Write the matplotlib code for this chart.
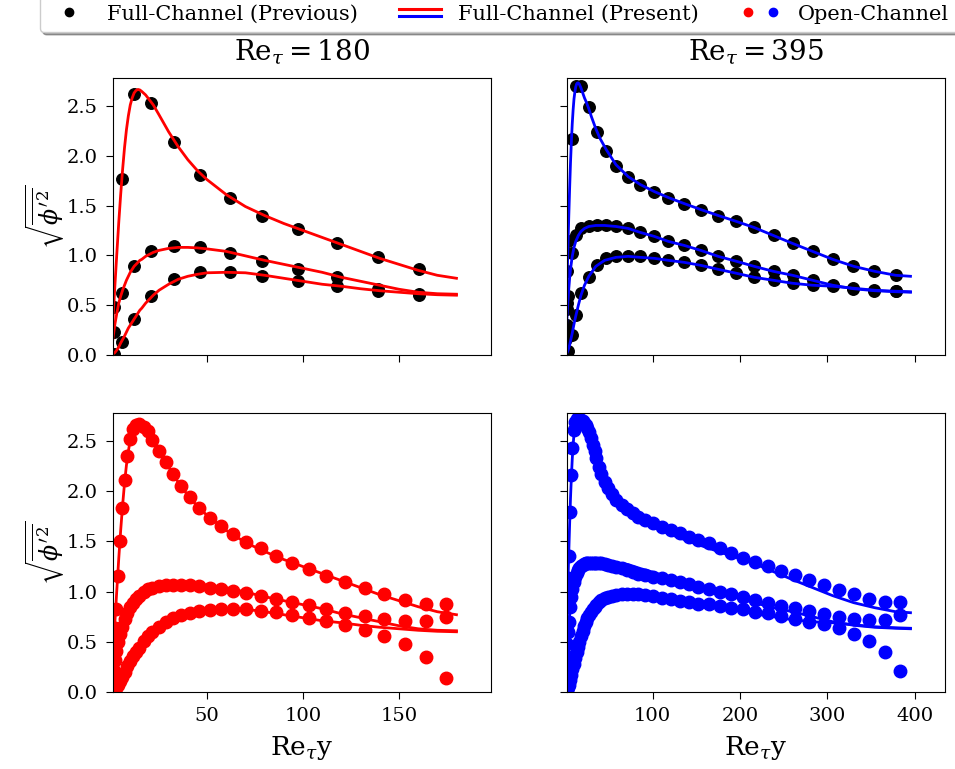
import matplotlib
matplotlib.use('Agg')
import matplotlib.pyplot as plt
from matplotlib.lines import Line2D
from matplotlib.legend_handler import HandlerBase, HandlerTuple

plt.rcParams['font.family'] = 'DejaVu Serif'
plt.rcParams['mathtext.fontset'] = 'dejavuserif'

# ---------------- Re_tau = 180 ----------------
# full channel, previous DNS (black dots)
x_prev_180 = [1.5, 5.6, 12.0, 21.0, 32.8, 46.2, 61.8, 78.8, 97.6, 117.9, 138.9, 160.4]
u_prev_180 = [0.48, 1.77, 2.62, 2.53, 2.14, 1.81, 1.58, 1.40, 1.26, 1.12, 0.98, 0.86]
w_prev_180 = [0.23, 0.62, 0.89, 1.04, 1.09, 1.08, 1.02, 0.94, 0.86, 0.78, 0.66, 0.61]
v_prev_180 = [0.01, 0.13, 0.36, 0.59, 0.76, 0.83, 0.83, 0.79, 0.74, 0.69, 0.64, 0.60]

# full channel, present (lines)
x_line_180 = [0, 1, 2, 3, 4, 5, 6, 7, 8, 9, 10, 11, 12, 13, 14, 15, 16, 18, 20, 22, 25,
              30, 35, 40, 45, 50, 60, 70, 80, 90, 100, 110, 120, 130, 140, 150, 160, 170, 180]
u_line_180 = [0, 0.36, 0.70, 1.02, 1.33, 1.61, 1.86, 2.08, 2.26, 2.40, 2.51, 2.58, 2.63, 2.655,
              2.665, 2.66, 2.645, 2.61, 2.56, 2.51, 2.41, 2.24, 2.09, 1.96, 1.85, 1.76, 1.61,
              1.49, 1.40, 1.32, 1.25, 1.18, 1.11, 1.04, 0.97, 0.91, 0.85, 0.80, 0.77]
w_line_180 = [0, 0.17, 0.31, 0.42, 0.52, 0.59, 0.65, 0.70, 0.75, 0.79, 0.83, 0.86, 0.89, 0.91,
              0.93, 0.95, 0.96, 0.99, 1.01, 1.03, 1.05, 1.07, 1.08, 1.08, 1.075, 1.065, 1.04,
              0.995, 0.95, 0.91, 0.87, 0.83, 0.78, 0.74, 0.70, 0.66, 0.63, 0.615, 0.61]
v_line_180 = [0, 0.01, 0.025, 0.05, 0.08, 0.12, 0.155, 0.19, 0.23, 0.27, 0.30, 0.33, 0.36, 0.39,
              0.42, 0.45, 0.47, 0.52, 0.56, 0.60, 0.65, 0.71, 0.76, 0.79, 0.81, 0.825, 0.83,
              0.825, 0.80, 0.77, 0.74, 0.71, 0.69, 0.665, 0.645, 0.63, 0.615, 0.605, 0.60]

# open channel (red dots)
x_open_180 = [0.6, 1.2, 1.8, 2.5, 3.45, 4.5, 5.7, 7.0, 8.4, 10.0, 11.5, 13.0, 14.6, 17.2, 19.3,
              21.5, 25.0, 28.8, 32.3, 36.3, 41.0, 45.8, 51.4, 57.5, 63.5, 70.5, 78.0, 85.8,
              94.3, 103.1, 112.2, 121.9, 132.1, 142.2, 153.0, 163.9, 174.7]
u_open_180 = [0.18, 0.42, 0.64, 0.83, 1.16, 1.50, 1.83, 2.11, 2.35, 2.52, 2.62, 2.66, 2.67, 2.64,
              2.60, 2.51, 2.40, 2.29, 2.17, 2.05, 1.94, 1.83, 1.73, 1.65, 1.57, 1.49, 1.43,
              1.36, 1.29, 1.23, 1.16, 1.10, 1.04, 0.98, 0.92, 0.88, 0.88]
w_open_180 = [0.12, 0.23, 0.32, 0.41, 0.50, 0.58, 0.65, 0.73, 0.79, 0.85, 0.89, 0.93, 0.96, 1.00,
              1.03, 1.04, 1.06, 1.07, 1.07, 1.07, 1.07, 1.06, 1.04, 1.03, 1.01, 0.99, 0.96,
              0.93, 0.90, 0.87, 0.83, 0.79, 0.76, 0.73, 0.71, 0.71, 0.75]
v_open_180 = [0.003, 0.01, 0.025, 0.04, 0.07, 0.11, 0.15, 0.20, 0.26, 0.31, 0.36, 0.40, 0.44, 0.51,
              0.56, 0.60, 0.65, 0.70, 0.74, 0.77, 0.79, 0.81, 0.82, 0.83, 0.83, 0.83, 0.81,
              0.80, 0.77, 0.74, 0.71, 0.67, 0.62, 0.56, 0.48, 0.35, 0.14]

# ---------------- Re_tau = 395 ----------------
x_prev_395 = [0.8, 1.5, 2.4, 3.3, 7.5, 12.5, 18.5, 26.8, 36.0, 46.8, 58.3, 71.7, 86.0, 102.0,
              117.9, 135.9, 155.1, 174.6, 195.6, 216.3, 238.5, 260.3, 283.2, 306.2, 329.6,
              353.3, 378.2]
u_prev_395 = [0.29, 0.52, 0.84, 1.14, 2.17, 2.70, 2.70, 2.49, 2.24, 2.05, 1.90, 1.79, 1.71, 1.64,
              1.58, 1.52, 1.46, 1.40, 1.34, 1.28, 1.20, 1.12, 1.04, 0.96, 0.89, 0.84, 0.80]
w_prev_395 = [0.16, 0.30, 0.46, 0.59, 1.02, 1.20, 1.27, 1.29, 1.30, 1.30, 1.29, 1.27, 1.23, 1.19,
              1.14, 1.10, 1.05, 0.99, 0.94, 0.89, 0.84, 0.80, 0.75, 0.70, 0.66, 0.64, 0.64]
v_prev_395 = [0.003, 0.01, 0.025, 0.045, 0.20, 0.40, 0.62, 0.78, 0.90, 0.97, 0.99, 0.99, 0.99,
              0.97, 0.95, 0.93, 0.90, 0.86, 0.82, 0.78, 0.75, 0.72, 0.70, 0.69, 0.67, 0.65, 0.64]

x_uline_395 = [0, 1, 2, 3, 4, 5, 6, 7, 8, 9, 10, 11, 12, 13, 14, 15, 16, 17, 18, 20, 22, 24, 27,
               30, 35, 40, 47, 58, 72, 86, 102, 118, 136, 155, 175, 196, 216, 238, 260, 283,
               306, 330, 354, 378, 395]
u_line_395 = [0, 0.36, 0.72, 1.06, 1.38, 1.67, 1.93, 2.14, 2.32, 2.46, 2.57, 2.64, 2.69, 2.72,
              2.73, 2.73, 2.72, 2.70, 2.68, 2.63, 2.58, 2.54, 2.47, 2.39, 2.27, 2.17, 2.06, 1.91,
              1.79, 1.71, 1.64, 1.58, 1.52, 1.46, 1.40, 1.34, 1.28, 1.20, 1.12, 1.04, 0.96,
              0.89, 0.84, 0.80, 0.79]
x_wline_395 = [0, 1, 2, 3, 4, 5, 6, 8, 10, 12, 15, 18, 22, 27, 35, 45, 58, 72, 86, 102, 118, 136,
               155, 175, 196, 216, 238, 260, 283, 306, 330, 354, 378, 395]
w_line_395 = [0, 0.2, 0.38, 0.53, 0.66, 0.77, 0.86, 0.99, 1.08, 1.14, 1.20, 1.24, 1.27, 1.29,
              1.30, 1.30, 1.29, 1.27, 1.23, 1.19, 1.14, 1.10, 1.05, 0.99, 0.94, 0.89, 0.84, 0.80,
              0.75, 0.70, 0.665, 0.645, 0.635, 0.63]
v_line_395 = [0, 0.005, 0.02, 0.04, 0.07, 0.10, 0.14, 0.22, 0.31, 0.39, 0.50, 0.60, 0.70, 0.79,
              0.89, 0.95, 0.98, 0.99, 0.98, 0.97, 0.95, 0.93, 0.90, 0.86, 0.82, 0.78, 0.75, 0.72,
              0.70, 0.69, 0.67, 0.65, 0.64, 0.635]

x_open_395 = [0.4, 1.0, 1.7, 2.5, 3.3, 4.1, 5.5, 6.8, 8.2, 9.8, 11.4, 13.0, 14.6, 16.3, 18.0,
              19.8, 21.6, 23.5, 25.4, 27.4, 29.4, 31.5, 33.6, 35.7, 38.7, 41.4, 45.2, 49.0,
              54.0, 58.6, 64.4, 70.1, 77.0, 83.5, 91.2, 100.0, 110.3, 121.0, 131.3, 141.7,
              152.4, 164.6, 176.5, 189.5, 202.9, 217.4, 232.0, 247.3, 263.4, 279.4, 295.9,
              313.1, 330.3, 347.6, 365.6, 383.1]
u_open_395 = [0.14, 0.36, 0.61, 0.89, 1.14, 1.36, 1.79, 2.16, 2.43, 2.61, 2.69, 2.72, 2.73, 2.72,
              2.71, 2.70, 2.68, 2.66, 2.63, 2.59, 2.53, 2.46, 2.40, 2.33, 2.24, 2.17, 2.09,
              2.03, 1.97, 1.91, 1.86, 1.82, 1.78, 1.74, 1.71, 1.68, 1.64, 1.61, 1.58, 1.54,
              1.51, 1.48, 1.43, 1.39, 1.34, 1.30, 1.26, 1.21, 1.17, 1.12, 1.07, 1.02, 0.98,
              0.93, 0.90, 0.90]
w_open_395 = [0.08, 0.20, 0.34, 0.48, 0.60, 0.70, 0.85, 0.95, 1.03, 1.10, 1.15, 1.19, 1.22, 1.24,
              1.26, 1.27, 1.28, 1.285, 1.29, 1.29, 1.29, 1.29, 1.29, 1.29, 1.29, 1.285, 1.28,
              1.27, 1.26, 1.25, 1.24, 1.22, 1.20, 1.18, 1.17, 1.15, 1.14, 1.12, 1.10, 1.08,
              1.05, 1.03, 1.00, 0.98, 0.95, 0.92, 0.89, 0.86, 0.84, 0.81, 0.78, 0.75, 0.73,
              0.72, 0.72, 0.77]
v_open_395 = [0.0, 0.005, 0.015, 0.03, 0.05, 0.07, 0.12, 0.17, 0.23, 0.28, 0.34, 0.40, 0.45, 0.50,
              0.56, 0.61, 0.66, 0.70, 0.74, 0.77, 0.80, 0.83, 0.85, 0.87, 0.90, 0.92, 0.94,
              0.95, 0.96, 0.97, 0.975, 0.98, 0.98, 0.98, 0.97, 0.96, 0.94, 0.93, 0.91, 0.90,
              0.88, 0.88, 0.86, 0.84, 0.83, 0.80, 0.79, 0.76, 0.73, 0.70, 0.68, 0.64, 0.58,
              0.51, 0.40, 0.21]


class HandlerStacked(HandlerBase):
    # two lines drawn one above the other in the legend
    def create_artists(self, legend, orig_handle, xdescent, ydescent, width, height,
                       fontsize, trans):
        arts = []
        for k, h in enumerate(orig_handle):
            y = height / 2 - ydescent + (0.22 - 0.44 * k) * height
            ln = Line2D([-xdescent, width - xdescent], [y, y], color=h.get_color(),
                        lw=h.get_linewidth(), transform=trans)
            arts.append(ln)
        return arts


fig = plt.figure(figsize=(9.55, 7.69), dpi=100)
W, H = 955, 769
def rect(l, t, r, b):
    return [l / W, 1 - b / H, (r - l) / W, (b - t) / H]

ax_tl = fig.add_axes(rect(113, 78, 491, 355))
ax_tr = fig.add_axes(rect(567, 78, 945, 355))
ax_bl = fig.add_axes(rect(113, 413, 491, 692))
ax_br = fig.add_axes(rect(567, 413, 945, 692))

ms_prev = 8.3
ms_open = 9
lw = 2

# top row: previous (black) + present (lines)
for ax, xp, ps, xl, ls, col in [
        (ax_tl, x_prev_180, [u_prev_180, w_prev_180, v_prev_180],
         [x_line_180] * 3, [u_line_180, w_line_180, v_line_180], 'r'),
        (ax_tr, x_prev_395, [u_prev_395, w_prev_395, v_prev_395],
         [x_uline_395, x_wline_395, x_wline_395], [u_line_395, w_line_395, v_line_395], 'b')]:
    for p in ps:
        ax.plot(xp, p, 'o', color='k', ms=ms_prev)
    for xx, l in zip(xl, ls):
        ax.plot(xx, l, '-', color=col, lw=lw)

# bottom row: open channel (coloured dots) + present (lines)
for ax, xo, os_, xl, ls, col in [
        (ax_bl, x_open_180, [u_open_180, w_open_180, v_open_180],
         [x_line_180] * 3, [u_line_180, w_line_180, v_line_180], 'r'),
        (ax_br, x_open_395, [u_open_395, w_open_395, v_open_395],
         [x_uline_395, x_wline_395, x_wline_395], [u_line_395, w_line_395, v_line_395], 'b')]:
    for xx, l in zip(xl, ls):
        ax.plot(xx, l, '-', color=col, lw=lw)
    for o in os_:
        ax.plot(xo, o, 'o', color=col, ms=ms_open)

for ax in (ax_tl, ax_bl):
    ax.set_xlim(1, 198)
    ax.set_xticks([50, 100, 150])
for ax in (ax_tr, ax_br):
    ax.set_xlim(2, 434.5)
    ax.set_xticks([100, 200, 300, 400])
for ax in (ax_tl, ax_tr, ax_bl, ax_br):
    ax.set_ylim(0, 2.78)
    ax.set_yticks([0, 0.5, 1.0, 1.5, 2.0, 2.5])
    ax.tick_params(labelsize=14, length=5, pad=6)
for ax in (ax_tl, ax_tr):
    ax.tick_params(labelbottom=False)
for ax in (ax_tr, ax_br):
    ax.tick_params(labelleft=False)

ylab = r"$\sqrt{\overline{\phi'^2}}$"
ax_tl.set_ylabel(ylab, fontsize=17, labelpad=0)
ax_bl.set_ylabel(ylab, fontsize=17, labelpad=0)
ax_bl.set_xlabel(r"Re$_\tau$y", fontsize=19, labelpad=6)
ax_br.set_xlabel(r"Re$_\tau$y", fontsize=19, labelpad=6)
ax_tl.set_title(r"$\mathrm{Re}_\tau = 180$", fontsize=20, pad=13)
ax_tr.set_title(r"$\mathrm{Re}_\tau = 395$", fontsize=20, pad=13)

# legend across the top
h_prev = Line2D([], [], ls='none', marker='o', color='k', ms=6)
h_red = Line2D([], [], color='r', lw=2.2)
h_blue = Line2D([], [], color='b', lw=2.2)
h_or = Line2D([], [], ls='none', marker='o', color='r', ms=6)
h_ob = Line2D([], [], ls='none', marker='o', color='b', ms=6)
fig.legend([h_prev, (h_red, h_blue), (h_or, h_ob)],
           ['Full-Channel (Previous)', 'Full-Channel (Present)', 'Open-Channel'],
           handler_map={(h_red, h_blue): HandlerStacked(),
                        (h_or, h_ob): HandlerTuple(ndivide=None)},
           loc='lower left', bbox_to_anchor=(40 / W, 1 - 32 / H), borderaxespad=0,
           ncol=3, fontsize=15, handlelength=2.0, columnspacing=2.0, shadow=True)

fig.savefig('out.png', dpi=100)
